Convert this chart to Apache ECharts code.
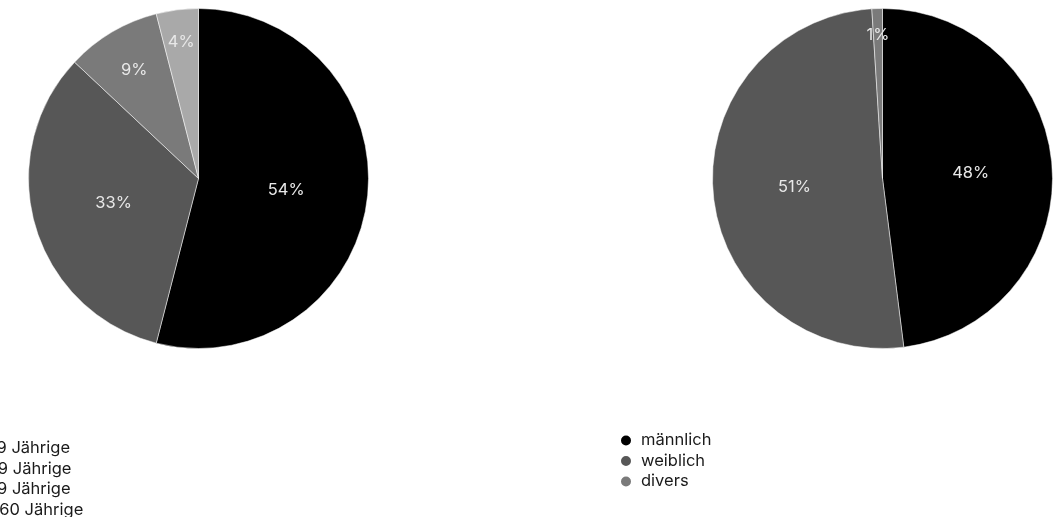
<!DOCTYPE html>
<html>
<head>
<meta charset="utf-8">
<script src="https://cdn.jsdelivr.net/npm/echarts@6/dist/echarts.min.js"></script>
<style>
  html, body { margin: 0; padding: 0; background: #fff; }
  #chart { width: 1055px; height: 517px; }
</style>
</head>
<body>
<div id="chart"></div>
<script>
// Altersgruppen
const ageCategories = ['bis 29 Jährige', '30-49 Jährige', '50-59 Jährige', 'über 60 Jährige'];
const ageValues = [54, 33, 9, 4];
const ageColors = ['#000000', '#575757', '#7a7a7a', '#a9a9a9'];

// Geschlecht
const genderCategories = ['männlich', 'weiblich', 'divers'];
const genderValues = [48, 51, 1];
const genderColors = ['#000000', '#575757', '#7a7a7a'];

const FONT = 'Inter, "Noto Sans", sans-serif';
const FONT_SIZE = 16.5;
const RADIUS = 170;
const leftCenter = [198.5, 178.5];
const rightCenter = [882.5, 178.5];

function toData(names, values, colors) {
  return names.map((n, i) => ({ name: n, value: values[i], itemStyle: { color: colors[i] } }));
}

// Place each percentage label inside its slice; narrow slices push the label outward.
function labelPlacer(values, center) {
  const total = values.reduce((a, b) => a + b, 0);
  return function (params) {
    const i = params.dataIndex;
    let cum = 0;
    for (let k = 0; k < i; k++) cum += values[k];
    const p = values[i] / total * 100;
    const theta = (cum + values[i] / 2) / total * Math.PI * 2;
    const f = Math.max(0.52, 0.86 - 0.013 * p);
    return {
      x: center[0] + RADIUS * f * Math.sin(theta),
      y: center[1] - RADIUS * f * Math.cos(theta),
      align: 'center',
      verticalAlign: 'middle'
    };
  };
}

const pieLabel = {
  show: true,
  position: 'inside',
  formatter: '{c}%',
  color: '#e8e8e8',
  fontFamily: FONT,
  fontSize: FONT_SIZE
};

const legendText = { fontFamily: FONT, fontSize: FONT_SIZE, color: '#1a1a1a', padding: [0, 0, 0, 4] };

const sliceStyle = { borderColor: '#ffffff', borderWidth: 0.5 };

const chart = echarts.init(document.getElementById('chart'), null, { renderer: 'canvas' });
chart.setOption({
  animation: false,
  legend: [
    {
      data: ageCategories,
      orient: 'vertical',
      left: -68,
      top: 435,
      height: 120,
      icon: 'circle',
      itemWidth: 12,
      itemHeight: 12,
      itemGap: 3.5,
      textStyle: legendText
    },
    {
      data: genderCategories,
      orient: 'vertical',
      left: 614,
      top: 427,
      height: 120,
      icon: 'circle',
      itemWidth: 12,
      itemHeight: 12,
      itemGap: 3.5,
      textStyle: legendText
    }
  ],
  series: [
    {
      type: 'pie',
      center: leftCenter,
      radius: [0, RADIUS],
      startAngle: 90,
      clockwise: true,
      data: toData(ageCategories, ageValues, ageColors),
      itemStyle: sliceStyle,
      label: pieLabel,
      labelLine: { show: false },
      labelLayout: labelPlacer(ageValues, leftCenter),
      emphasis: { disabled: true }
    },
    {
      type: 'pie',
      center: rightCenter,
      radius: [0, RADIUS],
      startAngle: 90,
      clockwise: true,
      data: toData(genderCategories, genderValues, genderColors),
      itemStyle: sliceStyle,
      label: pieLabel,
      labelLine: { show: false },
      labelLayout: labelPlacer(genderValues, rightCenter),
      emphasis: { disabled: true }
    }
  ]
});
</script>
</body>
</html>
